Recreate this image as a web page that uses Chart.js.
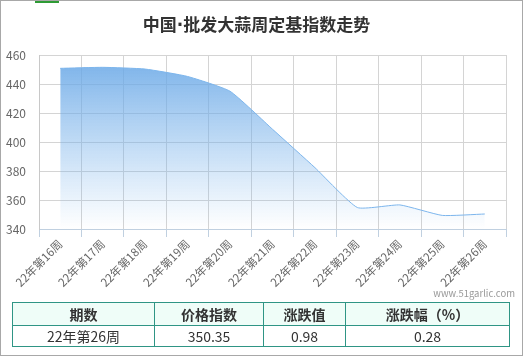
<!DOCTYPE html>
<html>
<head>
<meta charset="utf-8">
<script src="https://cdn.jsdelivr.net/npm/chart.js@4/dist/chart.umd.min.js"></script>
<style>
html,body{margin:0;padding:0;background:#fff;}
#wrap{position:absolute;left:0;top:0;width:521px;height:354px;border:1px solid #a8a8a8;overflow:hidden;}
#green{position:absolute;left:34px;top:0;width:24px;height:2px;background:#2e9b35;}
#title{position:absolute;left:0;top:10px;width:511px;text-align:center;font:bold 17px "Noto Sans CJK SC",sans-serif;color:#333;}
#title .dot{font-family:"DejaVu Sans",sans-serif;}
#cv{position:absolute;left:0;top:0;}
#wm{position:absolute;right:7px;top:285px;font:9.5px "Noto Sans CJK SC",sans-serif;color:#999;white-space:nowrap;}
table{position:absolute;left:11px;top:301px;border-collapse:collapse;font:14px "Noto Sans CJK SC",sans-serif;color:#333;}
td,th{border:1px solid #2f9585;text-align:center;padding:0;line-height:18px;}
th{background:#effdf8;font-weight:bold;height:22px;}
td{height:20px;}
</style>
</head>
<body>
<div id="wrap">
<div id="green"></div>
<canvas id="cv" width="521" height="300"></canvas>
<div id="title">中国<span class="dot">·</span>批发大蒜周定基指数走势</div>
<div id="wm">www.51garlic.com</div>
<table id="tb"><tr id="hr"></tr><tr id="br"></tr></table>
</div>
<script>
const categories = ["22年第16周","22年第17周","22年第18周","22年第19周","22年第20周","22年第21周","22年第22周","22年第23周","22年第24周","22年第25周","22年第26周"];
const indexValues = [450.8, 451.5, 450.3, 445.2, 435.0, 408.8, 382.3, 354.8, 356.6, 349.37, 350.35];
const yTicks = [340, 360, 380, 400, 420, 440, 460];
const tableHeaders = ["期数","价格指数","涨跌值","涨跌幅（%）"];
const tableValues = ["22年第26周","350.35","0.98","0.28"];
const colWidths = [141, 108, 81, 163];

const hr = document.getElementById('hr'), br = document.getElementById('br');
tableHeaders.forEach((h,i)=>{const th=document.createElement('th');th.textContent=h;th.style.width=colWidths[i]+'px';hr.appendChild(th);});
tableValues.forEach(v=>{const td=document.createElement('td');td.textContent=v;br.appendChild(td);});

const ctx = document.getElementById('cv').getContext('2d');
new Chart(ctx, {
  type: 'line',
  data: {
    labels: categories,
    datasets: [{
      data: indexValues,
      borderColor: '#7cb5ec',
      borderWidth: 1,
      pointRadius: 0,
      tension: 0.15,
      fill: 'start',
      backgroundColor: (c) => {
        const a = c.chart.chartArea;
        if (!a) return 'rgba(124,181,236,0.8)';
        const g = c.chart.ctx.createLinearGradient(0, a.top, 0, a.bottom);
        g.addColorStop(0, 'rgba(104,167,230,0.9)');
        g.addColorStop(1, 'rgba(124,181,236,0)');
        return g;
      }
    }]
  },
  options: {
    responsive: false,
    animation: false,
    layout: { padding: { top: 54, right: 16, left: 5, bottom: 0 } },
    plugins: { legend: { display: false }, tooltip: { enabled: false } },
    scales: {
      x: {
        offset: true,
        grid: { offset: true, color: '#d4d4d4', tickLength: 8, tickColor: '#c0d0e0' },
        border: { color: '#c0d0e0' },
        ticks: { minRotation: 45, maxRotation: 45, autoSkip: false, color: '#666', padding: 0, font: { family: '"Noto Sans CJK SC"', size: 11.5 } },
        afterFit: (s) => { s.height = 72; }
      },
      y: {
        min: 340, max: 460,
        afterBuildTicks: (s) => { s.ticks = yTicks.map(v => ({ value: v })); },
        grid: { color: '#d4d4d4', drawTicks: false },
        border: { color: '#c8c8c8' },
        ticks: { crossAlign: 'far', color: '#666', padding: 0, font: { family: '"Noto Sans CJK SC"', size: 12 } },
        afterFit: (s) => { s.width = 33; }
      }
    }
  }
});
</script>
</body>
</html>
